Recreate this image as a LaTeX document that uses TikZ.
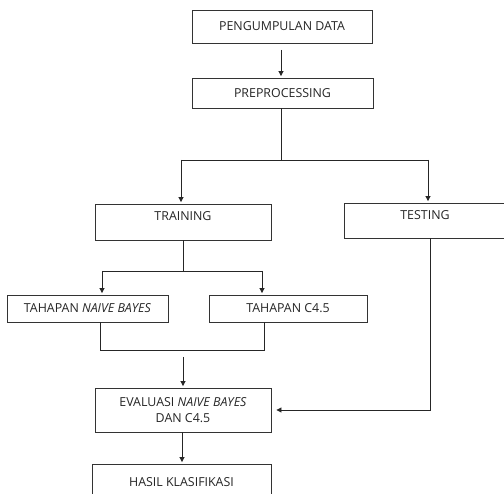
\documentclass[tikz,border=0pt]{standalone}
\usepackage{fontspec}
\setmainfont{Open Sans}
\usetikzlibrary{arrows.meta}
\begin{document}
\begin{tikzpicture}[x=1pt,y=-1pt,
  box/.style={draw=black!80, line width=0.9pt, rectangle, inner sep=0pt, align=center,
    text=black!85, font=\fontsize{12.4}{16}\selectfont},
  up/.style={text depth=#1},
  conn/.style={draw=black!85, line width=0.9pt},
  arr/.style={conn, -{Triangle[length=5pt,width=5pt]}, shorten >=1.5pt}]
\useasboundingbox (0,0) rectangle (504,494);
\clip (0,0) rectangle (504,494);
\fill[white] (0,0) rectangle (504,494);

\node[box, minimum width=180pt, minimum height=33pt] (pd) at (282,26.5) {PENGUMPULAN DATA};
\node[box, minimum width=181pt, minimum height=30pt] (pre) at (282.5,93) {PREPROCESSING};
\node[box, up=11pt, minimum width=176pt, minimum height=36pt] (tr) at (183,222) {TRAINING};
\node[box, up=10pt, minimum width=162pt, minimum height=35pt] (te) at (425,220.5) {TESTING};
\node[box, minimum width=161pt, minimum height=27pt] (nb) at (87.5,308.5) {TAHAPAN \textit{NAIVE BAYES}};
\node[box, minimum width=158pt, minimum height=27pt] (c45) at (288,308.5) {TAHAPAN C4.5};
\node[box, minimum width=176pt, minimum height=44pt] (ev) at (183,410) {EVALUASI \textit{NAIVE BAYES}\\DAN C4.5};
\node[box, up=9pt, minimum width=179pt, minimum height=46pt] (ha) at (181.5,487) {HASIL KLASIFIKASI};

% pengumpulan -> preprocessing
\coordinate (a1) at (281,50);
\draw[arr] (a1) -- (a1 |- pre.north);

% preprocessing -> training / testing
\coordinate (s0) at (281,160);
\coordinate (sl) at (181,160);
\coordinate (sr) at (428,160);
\draw[conn] (pre.south -| s0) -- (s0);
\draw[conn] (sl) -- (sr);
\draw[arr] (sl) -- (sl |- tr.north);
\draw[arr] (sr) -- (sr |- te.north);

% training -> tahapan
\coordinate (t0) at (183,271);
\coordinate (tl) at (102,271);
\coordinate (trr) at (262,271);
\draw[conn] (tr.south -| t0) -- (t0);
\draw[conn] (tl) -- (trr);
\draw[arr] (tl) -- (tl |- nb.north);
\draw[arr] (trr) -- (trr |- c45.north);

% tahapan -> bracket
\coordinate (bl) at (100,350);
\coordinate (br) at (264,350);
\draw[conn] (nb.south -| bl) -- (bl) -- (br) -- (c45.south -| br);

% -> evaluasi
\coordinate (e0) at (183,357);
\draw[arr] (e0) -- (e0 |- ev.north);

% testing -> evaluasi
\coordinate (q1) at (430,410);
\draw[arr, shorten >=5pt] (te.south -| q1) -- (q1) -- (ev.east |- q1);

% evaluasi -> hasil
\coordinate (h0) at (182,432);
\draw[arr] (ev.south -| h0) -- (h0 |- ha.north);
\end{tikzpicture}
\end{document}
